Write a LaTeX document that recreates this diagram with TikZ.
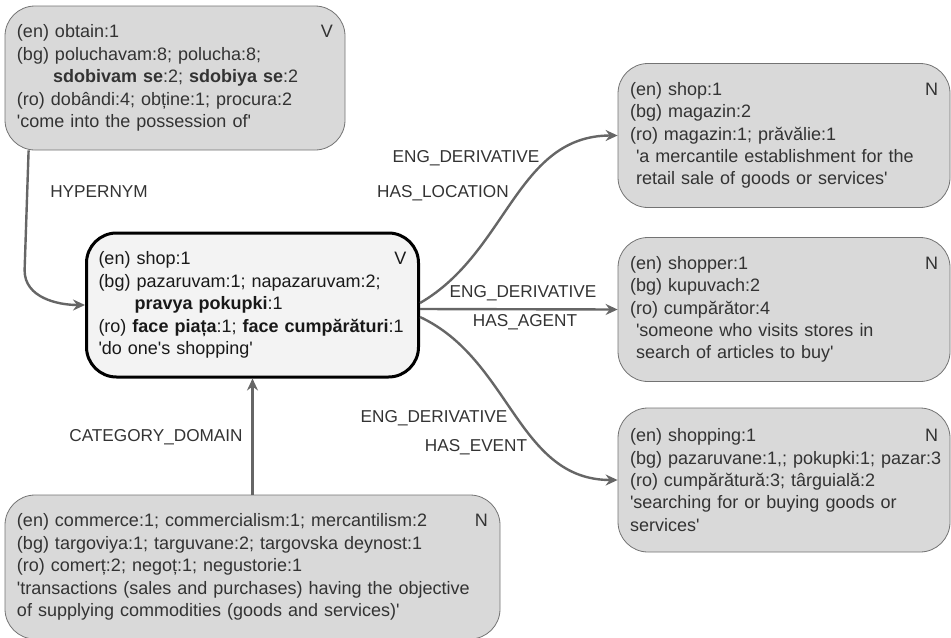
\documentclass[tikz,border=0pt]{standalone}
\usepackage{fontspec}
\setmainfont{Liberation Sans}[Ligatures=TeXOff]
\usetikzlibrary{arrows.meta}

\definecolor{boxgray}{HTML}{D9D9D9}
\definecolor{mainfill}{HTML}{F3F3F3}

\begin{document}
\begin{tikzpicture}[x=0.5pt,y=-0.5pt,
    synset/.style={draw=black!55, fill=boxgray, rounded corners=15pt, text=black!80,
      font=\fontsize{9pt}{11.2pt}\selectfont, align=left, inner xsep=6pt,
      minimum height=72pt},
    mainsyn/.style={synset, draw=black, fill=mainfill, line width=1.5pt, text=black!90},
    rel/.style={draw=black!60, line width=1.2pt,
      -{Stealth[length=6pt,width=5.5pt,inset=2pt]}},
    lbl/.style={text=black!80, font=\fontsize{8.6pt}{10pt}\selectfont, inner sep=0pt}]
  \useasboundingbox (0,0) rectangle (951,637);
  \def\ind{\hspace*{18pt}}
  \def\sp{\hspace*{3pt}}
  \def\pos#1{\hskip 0pt plus 1fill #1}

  % synsets
  \node[mainsyn, text width=154pt] (shop) at (252.5,305)
    {(en) shop:1\pos{V}\\
     (bg) pazaruvam:1; napazaruvam:2;\\
     \ind\textbf{pravya pokupki}:1\\
     \mbox{(ro) \textbf{face piața}:1; \textbf{face cumpărături}:1}\\
     'do one's shopping'};
  \node[synset, text width=158pt] (hyp) at (175,78)
    {(en) obtain:1\pos{V}\\
     (bg) poluchavam:8; polucha:8;\\
     \ind\textbf{sdobivam se}:2; \textbf{sdobiya se}:2\\
     (ro) dobândi:4; obține:1; procura:2\\
     'come into the possession of'};
  \node[synset, text width=235.5pt] (dom) at (252.5,567)
    {(en) commerce:1; commercialism:1; mercantilism:2\pos{N}\\
     (bg) targoviya:1; targuvane:2; targovska deynost:1\\
     (ro) comerț:2; negoț:1; negustorie:1\\
     \mbox{'transactions (sales and purchases) having the objective}\\
     of supplying commodities (goods and services)'};
  \node[synset, text width=154pt] (loc) at (784,135.5)
    {(en) shop:1\pos{N}\\
     (bg) magazin:2\\
     (ro) magazin:1; prăvălie:1\\
     \sp'a mercantile establishment for the\\
     \sp retail sale of goods or services'};
  \node[synset, text width=154pt] (agent) at (784,309.5)
    {(en) shopper:1\pos{N}\\
     (bg) kupuvach:2\\
     (ro) cumpărător:4\\
     \sp'someone who visits stores in\\
     \sp search of articles to buy'};
  \node[synset, text width=154pt] (event) at (784,480)
    {(en) shopping:1\pos{N}\\
     \mbox{(bg) pazaruvane:1,; pokupki:1; pazar:3}\\
     (ro) cumpărătură:3; târguială:2\\
     'searching for or buying goods or\\
     services'};

  % relations
  \draw[rel] ([xshift=12pt]hyp.south west) -- ++(-2pt,-60pt)
    to[out=-90,in=180] (shop.west);
  \draw[rel] (dom.north) -- (shop.south);
  \draw[rel] ([yshift=1pt]shop.east) to[out=30,in=180] (loc.west);
  \draw[rel] ([yshift=-2pt]shop.east) -- (agent.west);
  \draw[rel] ([yshift=-6pt]shop.east) to[out=-25,in=180] (event.west);

  % labels
  \node[lbl] (hypl) at (99,192) {HYPERNYM};
  \node[lbl] (doml) at (156,437) {CATEGORY\_DOMAIN};
  \node[lbl] (locl) at (466,158) {ENG\_DERIVATIVE};
  \node[lbl] (locr) at (443,193) {HAS\_LOCATION};
  \node[lbl] (agl) at (523,293) {ENG\_DERIVATIVE};
  \node[lbl] (agr) at (525,322) {HAS\_AGENT};
  \node[lbl] (evl) at (434,418) {ENG\_DERIVATIVE};
  \node[lbl] (evr) at (476,447) {HAS\_EVENT};
\end{tikzpicture}
\end{document}
